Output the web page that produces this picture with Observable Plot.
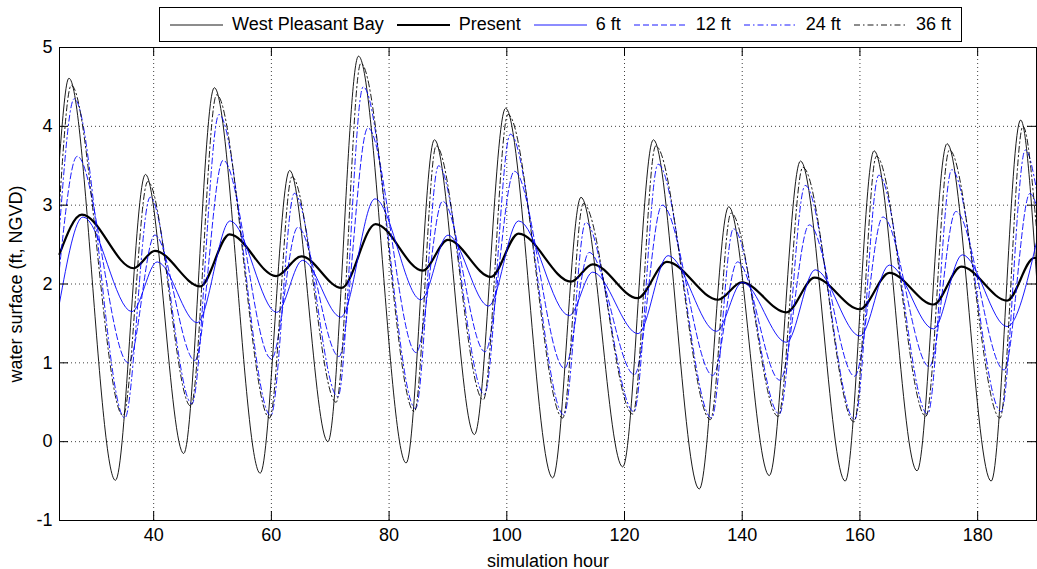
<!DOCTYPE html>
<html><head><meta charset="utf-8">
<script src="https://cdn.jsdelivr.net/npm/d3@7"></script>
<script src="https://cdn.jsdelivr.net/npm/@observablehq/plot@0.6"></script>
<style>
body{margin:0;background:#fff;}
#wrap{position:relative;width:1037px;height:569px;font-family:"Liberation Sans",Arial,sans-serif;}
#chart{position:absolute;left:0;top:0;}
#legend{position:absolute;left:159px;top:7px;height:33px;border:1px solid #000;background:#fff;display:flex;align-items:center;padding:0 10px 0 10px;font-size:18px;color:#000;white-space:nowrap;}
.item{display:flex;align-items:center;margin-right:13px}
.item:last-child{margin-right:0}
.item svg{margin-right:9px;display:block}
</style></head><body><div id="wrap"><div id="chart"></div><div id="legend"></div></div>
<script>
// ---- data ----
const xTicks = [40, 60, 80, 100, 120, 140, 160, 180];
const yTicks = [-1, 0, 1, 2, 3, 4, 5];

const seriesNames = ["West Pleasant Bay", "Present", "6 ft", "12 ft", "24 ft", "36 ft"];

const wpbHours  = [24, 25.6, 33.5, 38.6, 45.1, 50.3, 58.1, 63.1, 69.6, 74.8, 82.9, 87.7, 94.5, 99.8, 107.8, 112.6, 119.7, 124.9, 132.7, 137.7, 144.6, 149.9, 157.5, 162.4, 169.7, 174.8, 182.3, 187.3, 190];
const wpbLevels = [3.6, 4.61, -0.49, 3.39, -0.15, 4.49, -0.40, 3.44, 0.0, 4.89, -0.27, 3.83, 0.09, 4.23, -0.46, 3.10, -0.32, 3.83, -0.60, 2.98, -0.43, 3.56, -0.50, 3.69, -0.37, 3.78, -0.50, 4.08, 2.1];

const presentHours  = [24, 27.8, 36.6, 40.2, 47.9, 52.9, 60.8, 65.1, 71.9, 77.7, 85.7, 90.0, 97.3, 102.0, 110.9, 114.6, 122.2, 127.2, 135.9, 139.9, 147.5, 152.3, 160.0, 165.0, 172.5, 177.2, 185.0, 189.6, 190];
const presentLevels = [2.38, 2.88, 2.20, 2.42, 1.97, 2.63, 2.10, 2.35, 1.95, 2.76, 2.17, 2.56, 2.09, 2.64, 2.03, 2.25, 1.82, 2.28, 1.80, 2.02, 1.64, 2.08, 1.68, 2.14, 1.74, 2.22, 1.79, 2.33, 2.33];

const ft6Hours  = [24, 28.0, 36.3, 40.6, 47.4, 53.0, 60.9, 65.3, 71.8, 77.6, 85.4, 90.0, 96.9, 102.0, 110.6, 114.6, 122.3, 127.4, 135.6, 140.0, 147.5, 152.4, 160.0, 165.0, 172.5, 177.4, 185.0, 190];
const ft6Levels = [1.76, 2.85, 1.65, 2.28, 1.51, 2.80, 1.64, 2.30, 1.58, 3.08, 1.80, 2.62, 1.72, 2.80, 1.60, 2.15, 1.37, 2.36, 1.40, 2.02, 1.26, 2.18, 1.34, 2.24, 1.43, 2.37, 1.46, 2.53];

const ft12Hours  = [24, 27.0, 35.7, 40.2, 47.0, 51.8, 60.0, 64.5, 71.5, 76.4, 84.6, 89.1, 96.3, 101.3, 109.8, 114.0, 121.7, 126.4, 135.0, 139.2, 146.4, 151.4, 159.1, 163.9, 171.8, 176.3, 184.5, 188.9, 190];
const ft12Levels = [2.2, 3.62, 1.00, 2.62, 1.03, 3.57, 1.05, 2.72, 1.08, 3.98, 1.13, 3.05, 1.14, 3.43, 0.93, 2.40, 0.85, 3.00, 0.84, 2.28, 0.78, 2.75, 0.83, 2.85, 0.95, 2.92, 0.91, 3.15, 3.0];

const ft24Hours  = [24, 26.5, 35.1, 39.4, 46.5, 51.1, 59.9, 63.9, 71.3, 75.6, 84.5, 88.4, 96.2, 100.6, 109.7, 113.4, 121.6, 125.7, 134.8, 138.5, 146.3, 150.7, 159.1, 163.2, 171.5, 175.6, 184.0, 188.1, 190];
const ft24Levels = [2.7, 4.35, 0.30, 3.10, 0.48, 4.15, 0.33, 3.15, 0.57, 4.50, 0.42, 3.50, 0.60, 3.90, 0.34, 2.78, 0.38, 3.52, 0.30, 2.70, 0.35, 3.25, 0.28, 3.38, 0.35, 3.45, 0.38, 3.70, 3.2];

const ft36Hours  = [24, 26.0, 34.8, 39.0, 46.3, 50.7, 59.7, 63.5, 71.0, 75.2, 84.3, 88.0, 96.0, 100.2, 109.5, 113.0, 121.4, 125.3, 134.6, 138.1, 146.1, 150.3, 159.0, 162.8, 171.2, 175.2, 183.8, 187.7, 190];
const ft36Levels = [3.0, 4.52, 0.33, 3.30, 0.45, 4.40, 0.30, 3.36, 0.50, 4.80, 0.38, 3.75, 0.53, 4.15, 0.30, 3.02, 0.35, 3.75, 0.28, 2.90, 0.32, 3.48, 0.25, 3.62, 0.32, 3.70, 0.30, 4.00, 2.7];

// ---- styles (kept apart from data) ----
const styles = [
  {stroke: "#000", strokeWidth: 0.9, dash: null},
  {stroke: "#000", strokeWidth: 2.2, dash: null},
  {stroke: "#0000ff", strokeWidth: 0.9, dash: null},
  {stroke: "#0000ff", strokeWidth: 0.9, dash: "6,3"},
  {stroke: "#0000ff", strokeWidth: 0.9, dash: "6,3,1.5,3"},
  {stroke: "#000", strokeWidth: 0.9, dash: "6,3,1.5,3"}
];

const seriesData = [
  [wpbHours, wpbLevels], [presentHours, presentLevels], [ft6Hours, ft6Levels],
  [ft12Hours, ft12Levels], [ft24Hours, ft24Levels], [ft36Hours, ft36Levels]
].map(([hs, vs], i) => hs.map((h, j) => ({series: seriesNames[i], hour: h, level: vs[j]})));

const W = 1037, H = 569, mL = 59, mR = 1, mT = 47, mB = 49;
const plotH = H - mT - mB, plotW = W - mL - mR;
const tickLen = 9;

const lineMarks = seriesData.map((rows, i) => Plot.line(rows, {
  x: "hour", y: "level", curve: "monotone-x",
  stroke: styles[i].stroke, strokeWidth: styles[i].strokeWidth,
  strokeDasharray: styles[i].dash || undefined
}));

const chart = Plot.plot({
  width: W, height: H,
  marginLeft: mL, marginRight: mR, marginTop: mT, marginBottom: mB,
  style: {fontFamily: "'Liberation Sans', Arial, sans-serif", fontSize: "18px", color: "#000", background: "#fff"},
  x: {domain: [24, 190]},
  y: {domain: [-1, 5]},
  marks: [
    Plot.gridX(xTicks, {stroke: "#000", strokeOpacity: 0.75, strokeDasharray: "1,3"}),
    Plot.gridY(yTicks, {stroke: "#000", strokeOpacity: 0.75, strokeDasharray: "1,3"}),
    ...lineMarks,
    Plot.ruleX(xTicks, {x: d => d, insetTop: plotH - tickLen, stroke: "#000"}),
    Plot.ruleX(xTicks, {x: d => d, insetBottom: plotH - tickLen, stroke: "#000"}),
    Plot.ruleY(yTicks, {y: d => d, insetRight: plotW - tickLen, stroke: "#000"}),
    Plot.ruleY(yTicks, {y: d => d, insetLeft: plotW - tickLen, stroke: "#000"}),
    Plot.frame({stroke: "#000"}),
    Plot.axisX(xTicks, {tickSize: 0, tickPadding: 8, tickFormat: d => String(d),
      label: "simulation hour", labelAnchor: "center", labelArrow: "none", labelOffset: 46}),
    Plot.axisY(yTicks, {tickSize: 0, tickPadding: 7, tickFormat: d => String(d),
      label: "water surface (ft, NGVD)", labelAnchor: "center", labelArrow: "none", labelOffset: 50})
  ]
});
document.getElementById("chart").appendChild(chart);

// ---- legend ----
const legend = document.getElementById("legend");
seriesNames.forEach((name, i) => {
  const item = document.createElement("div");
  item.className = "item";
  const s = styles[i];
  item.innerHTML = `<svg width="53" height="10"><line x1="0" x2="53" y1="5" y2="5" stroke="${s.stroke}" stroke-width="${s.strokeWidth}" ${s.dash ? `stroke-dasharray="${s.dash}"` : ""}/></svg><span>${name}</span>`;
  legend.appendChild(item);
});
</script></body></html>
